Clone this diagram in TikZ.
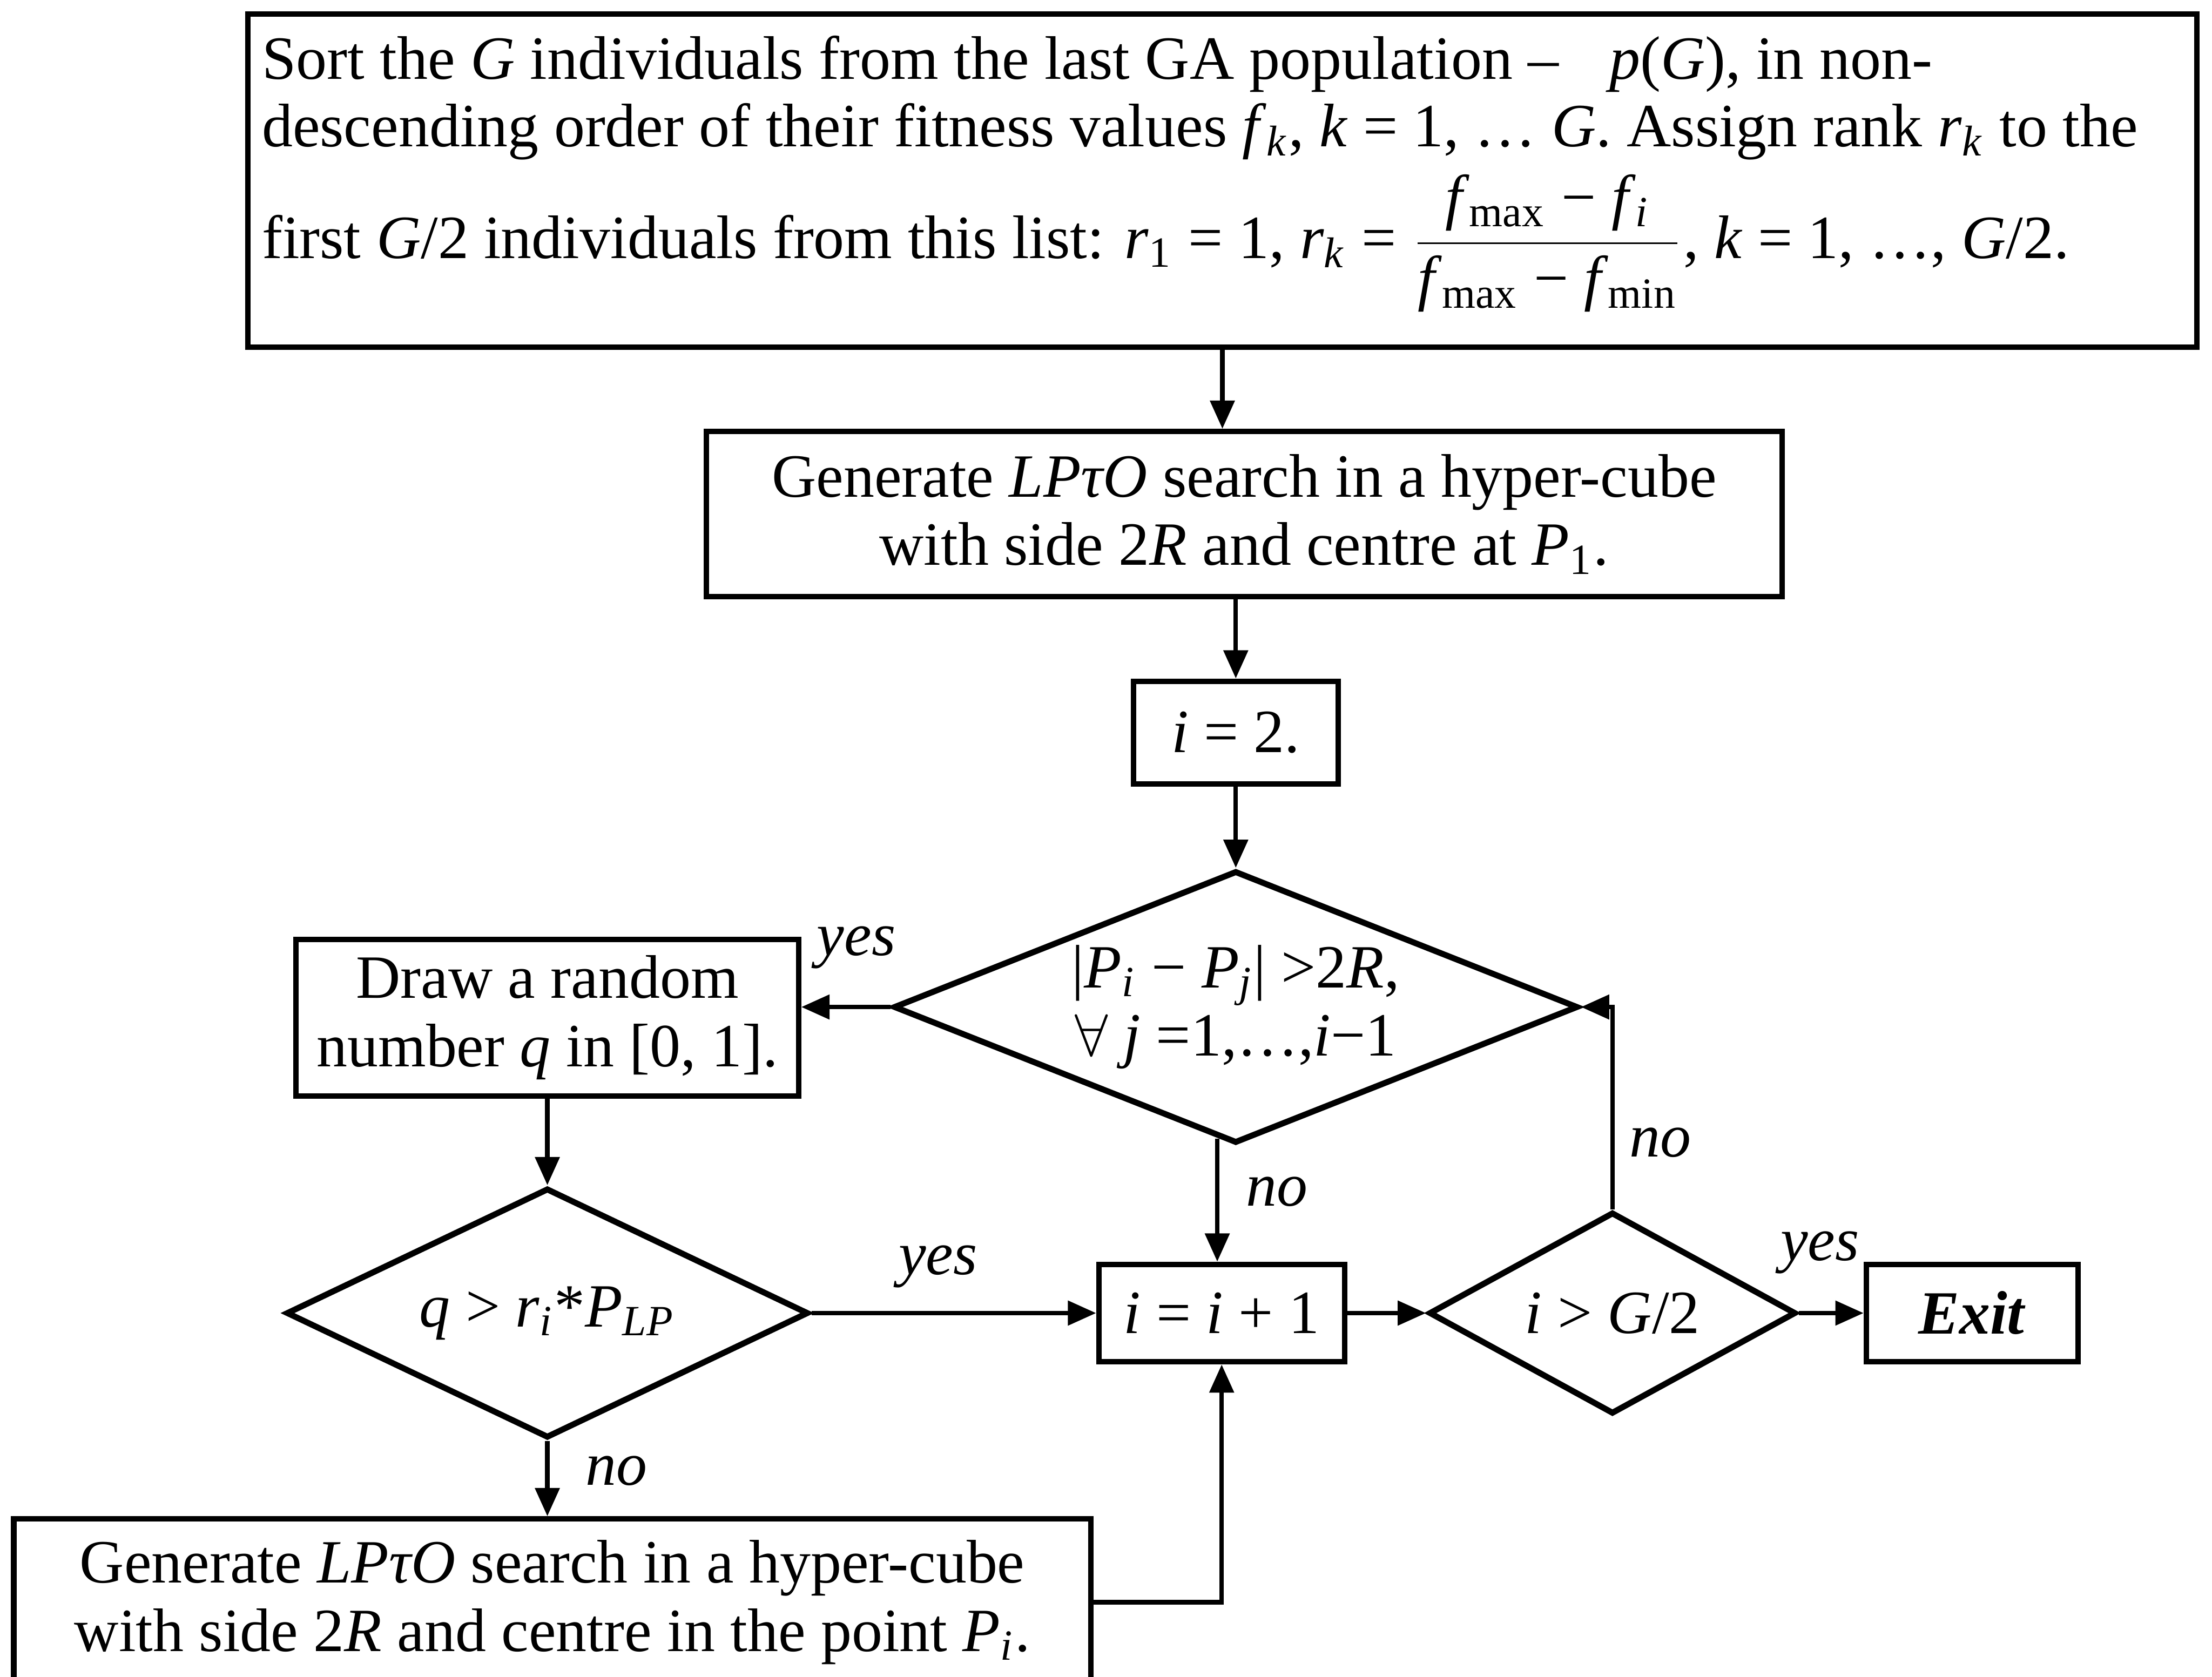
\documentclass[tikz,border=0pt]{standalone}
\usepackage{fontspec}
\setmainfont{Liberation Serif}
\usetikzlibrary{arrows.meta,shapes.geometric,calc}
\newcommand{\sbu}[1]{\textsubscript{#1}}
\newcommand{\sbi}[1]{\textsubscript{\textit{#1}}}
\begin{document}
\begin{tikzpicture}[x=0.01cm,y=-0.01cm,
  every node/.style={font=\fontsize{12.4}{13.8}\selectfont},
  box/.style={draw, line width=1.1pt, rectangle, inner sep=0pt, align=center},
  dec/.style={draw, line width=1.2pt, diamond, inner sep=0pt, align=center},
  conn/.style={line width=0.9pt, -{Triangle[length=0.2cm,width=0.17cm]}},
  lab/.style={font=\fontsize{12.4}{13.8}\selectfont\itshape, inner sep=0pt},
  txt/.style={inner sep=0pt, anchor=base west}]
\useasboundingbox (0,0) rectangle (1568,1189);

\node[box, minimum width=13.81cm, minimum height=2.36cm] (top) at (866.5,128) {};
\node[txt] (t1) at (185,56) {Sort the \textit{G} individuals from the last GA population –\hspace{0.25cm} \textit{p}(\textit{G}), in non-};
\node[txt] (t2) at (185,104) {descending order of their fitness values \textit{f}\sbi{k}, \textit{k} = 1, … \textit{G}. Assign rank \textit{r}\sbi{k} to the};
\node[txt] (t3) at (185,183) {first \textit{G}/2 individuals from this list: \textit{r}\sbu{1} = 1, \textit{r}\sbi{k} = $\displaystyle\frac{\mbox{\textit{f}\sbu{max} − \textit{f}\sbi{i}}}{\mbox{\textit{f}\sbu{max} − \textit{f}\sbu{min}}}$, \textit{k} = 1, …, \textit{G}/2.};

\node[box, minimum width=7.62cm, minimum height=1.17cm] (gen1) at (882,364.5) {Generate \textit{LPτO} search in a hyper-cube\\with side 2\textit{R} and centre at \textit{P}\sbu{1}.};
\node[box, minimum width=1.45cm, minimum height=0.73cm] (i2) at (876,519.5) {\textit{i} = 2.};
\node[dec, aspect=2.51, minimum width=4.85cm, minimum height=1.93cm] (d1) at (876,714) {|\textit{P}\sbi{i} − \textit{P}\sbi{j}| >2\textit{R},\\$\forall$ \textit{j} =1,…,\textit{i}−1};
\node[box, minimum width=3.56cm, minimum height=1.11cm] (rnd) at (388,721.5) {Draw a random\\number \textit{q} in [0, 1].};
\node[dec, aspect=2.09, minimum width=3.70cm, minimum height=1.77cm] (d2) at (388,931) {\textit{q} > \textit{r}\sbi{i}*\textit{P}\sbi{LP}};
\node[box, minimum width=1.74cm, minimum height=0.69cm] (inc) at (866,931) {\textit{i} = \textit{i} + 1};
\node[dec, aspect=1.82, minimum width=2.60cm, minimum height=1.43cm] (d3) at (1143,931) {\textit{i} > \textit{G}/2};
\node[box, minimum width=1.50cm, minimum height=0.69cm] (exit) at (1398,931) {\textbf{\textit{Exit}}};
\node[box, minimum width=7.63cm, minimum height=1.18cm] (gen2) at (391.5,1136) {Generate \textit{LPτO} search in a hyper-cube\\with side 2\textit{R} and centre in the point \textit{P}\sbi{i}.};

\coordinate (d1out) at ($(d1.south)!0.0536!(d1.west)$);

\draw[conn] (top.south) -- (top.south |- gen1.north);
\draw[conn] (i2.north |- gen1.south) -- (i2.north);
\draw[conn] (i2.south) -- (d1.north);
\draw[conn] (d1.west) -- (rnd.east |- d1.west);
\draw[conn] (rnd.south) -- (d2.north);
\draw[conn] (d2.east) -- (inc.west);
\draw[conn] (d1out) -- (d1out |- inc.north);
\draw[conn] (inc.east) -- (d3.west);
\draw[conn] (d3.east) -- (exit.west);
\draw[conn] (d3.north) |- (d1.east);
\draw[conn] (d2.south) -- (d2.south |- gen2.north);
\draw[conn] (gen2.east) -| (inc.south);

\node[lab] (y1) at (607,672) {yes};
\node[lab] (y2) at (665,898) {yes};
\node[lab] (y3) at (1290,888) {yes};
\node[lab] (n1) at (905,845) {no};
\node[lab] (n2) at (1177,810) {no};
\node[lab] (n3) at (437,1043) {no};
\end{tikzpicture}
\end{document}
